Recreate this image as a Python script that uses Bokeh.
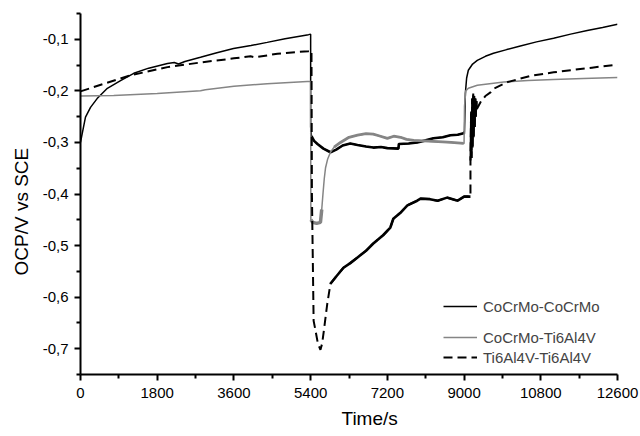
import numpy as np
from bokeh.plotting import figure
from bokeh.models import (Range1d, FixedTicker, CustomJSTickFormatter, Legend,
                          LegendItem, Title)
from bokeh.embed import file_html
from bokeh.resources import INLINE

# ---------------- data ----------------
# CoCrMo-CoCrMo (black solid)
cc_t = [0, 40, 117, 235, 390, 630, 940, 1250, 1600, 2040, 2200, 2300, 2450, 2815, 3200,
        3590, 4000, 4380, 4800, 5350, 5400,
        5400, 5420, 5480, 5560, 5700, 5865, 6000, 6150, 6330, 6500, 6700, 6870, 7050, 7200,
        7460, 7470, 7700, 7900, 8100, 8280, 8500, 8680, 8850, 8990, 9010,
        9030, 9060, 9100, 9200, 9310, 9500, 9690, 10000, 10320, 10700, 11100, 11500, 11890,
        12250, 12600]
cc_v = [-0.300, -0.283, -0.251, -0.232, -0.215, -0.195, -0.180, -0.166, -0.156, -0.147,
        -0.145, -0.148, -0.143, -0.135, -0.126, -0.118, -0.112, -0.106, -0.099, -0.091, -0.090,
        -0.270, -0.288, -0.297, -0.303, -0.312, -0.319, -0.314, -0.306, -0.302, -0.305,
        -0.308, -0.310, -0.309, -0.311, -0.312, -0.303, -0.302, -0.300, -0.296, -0.292,
        -0.290, -0.286, -0.285, -0.282, -0.280,
        -0.205, -0.175, -0.160, -0.148, -0.141, -0.133, -0.127, -0.120, -0.113, -0.105,
        -0.098, -0.090, -0.083, -0.077, -0.071]

# CoCrMo-Ti6Al4V (grey solid)
cg_t = [0, 780, 1800, 2815, 2930, 3600, 4380, 5320, 5400,
        5405, 5450, 5540, 5630, 5660, 5690, 5720, 5750, 5800, 5865, 5950, 6100, 6300, 6500,
        6700, 6870, 7000, 7200, 7350, 7510, 7650, 7820, 8050, 8280, 8500, 8700, 8990,
        9000, 9010, 9040, 9100, 9310, 9600, 9930, 10500, 11100, 11800, 12600]
cg_v = [-0.210, -0.209, -0.205, -0.200, -0.198, -0.191, -0.186, -0.182, -0.182,
        -0.450, -0.455, -0.457, -0.455, -0.430, -0.399, -0.370, -0.349, -0.332, -0.319,
        -0.309, -0.300, -0.290, -0.286, -0.283, -0.284, -0.287, -0.292, -0.288, -0.290,
        -0.294, -0.296, -0.297, -0.298, -0.299, -0.300, -0.302,
        -0.302, -0.230, -0.200, -0.195, -0.189, -0.186, -0.183, -0.180, -0.178, -0.176, -0.174]

# Ti6Al4V-Ti6Al4V (black dashed)
ti_t = [0, 600, 1170, 2040, 2815, 3600, 3990, 4100, 4620, 5350, 5420,
        5430, 5470, 5515, 5570, 5630, 5670, 5710, 5790, 5865,
        6000, 6170, 6330, 6500, 6700, 6870, 7100, 7270, 7340, 7500, 7670, 7900, 7980, 8200,
        8380, 8600, 8850, 9000, 9150,
        9150, 9165, 9175, 9190, 9200, 9215, 9225, 9240, 9250, 9265, 9275, 9290, 9300,
        9385, 9500, 9620, 9690, 10020, 10560, 11100, 11500, 12000, 12600]
ti_v = [-0.201, -0.185, -0.170, -0.154, -0.145, -0.137, -0.133, -0.135, -0.128, -0.123, -0.122,
        -0.400, -0.646, -0.665, -0.690, -0.702, -0.690, -0.665, -0.613, -0.574,
        -0.560, -0.543, -0.534, -0.523, -0.510, -0.496, -0.480, -0.465, -0.448, -0.437,
        -0.422, -0.413, -0.409, -0.410, -0.413, -0.407, -0.413, -0.405, -0.405,
        -0.335, -0.240, -0.330, -0.215, -0.310, -0.205, -0.290, -0.210, -0.270, -0.215,
        -0.250, -0.220, -0.235,
        -0.222, -0.210, -0.203, -0.196, -0.183, -0.171, -0.164, -0.160, -0.155, -0.149]

labels = ["CoCrMo-CoCrMo", "CoCrMo-Ti6Al4V", "Ti6Al4V-Ti6Al4V"]
x_ticks = [0, 1800, 3600, 5400, 7200, 9000, 10800, 12600]
y_ticks = [-0.7, -0.6, -0.5, -0.4, -0.3, -0.2, -0.1]
x_title = "Time/s"
y_title = "OCP/V vs SCE"

FONT = "Liberation Sans"
GREY = "#858585"

p = figure(width=640, height=436, output_backend="svg", toolbar_location=None,
           x_range=Range1d(0, 12600), y_range=Range1d(-0.75, -0.05),
           min_border_left=80, min_border_right=23, min_border_top=13,
           min_border_bottom=62)
p.outline_line_color = None
p.grid.visible = False
p.background_fill_color = "white"

cc_t_a, cc_v_a = np.array(cc_t), np.array(cc_v)
cg_t_a, cg_v_a = np.array(cg_t), np.array(cg_v)
ti_t_a, ti_v_a = np.array(ti_t), np.array(ti_v)

# CoCrMo-CoCrMo
r_cc = p.line(cc_t_a, cc_v_a, line_color="black", line_width=1.5)
i0, i1 = cc_t.index(5420), cc_t.index(9010)
p.line(cc_t_a[i0:i1 + 1], cc_v_a[i0:i1 + 1], line_color="black", line_width=2.6)

# CoCrMo-Ti6Al4V
r_cg = p.line(cg_t_a, cg_v_a, line_color=GREY, line_width=1.5)
j0, j1 = cg_t.index(5405), cg_t.index(5660)
p.line(cg_t_a[j0:j1 + 1], cg_v_a[j0:j1 + 1], line_color=GREY, line_width=3.5)
j2, j3 = cg_t.index(5950), cg_t.index(8990)
p.line(cg_t_a[j2:j3 + 1], cg_v_a[j2:j3 + 1], line_color=GREY, line_width=2.8)

# Ti6Al4V-Ti6Al4V
r_ti = p.line(ti_t_a, ti_v_a, line_color="black", line_width=2, line_dash="9 5")
k0, k1 = ti_t.index(5865), ti_t.index(9150)
p.line(ti_t_a[k0:k1 + 1], ti_v_a[k0:k1 + 1], line_color="black", line_width=2.6)
k2, k3 = k1 + 1, ti_t.index(9300)
p.line(ti_t_a[k2:k3 + 1], ti_v_a[k2:k3 + 1], line_color="black", line_width=2)

# axes
for ax in (p.xaxis[0], p.yaxis[0]):
    ax.axis_line_width = 2
    ax.axis_line_color = "black"
    ax.major_tick_line_width = 2
    ax.minor_tick_line_width = 2
    ax.major_tick_line_color = "black"
    ax.minor_tick_line_color = "black"
    ax.major_tick_in = 0
    ax.major_tick_out = 6
    ax.minor_tick_in = 0
    ax.minor_tick_out = 4
    ax.major_label_text_font = FONT
    ax.major_label_text_font_size = "15px"
    ax.major_label_text_color = "black"

p.xaxis.ticker = FixedTicker(ticks=x_ticks,
                             minor_ticks=[900, 2700, 4500, 6300, 8100, 9900, 11700])
p.xaxis.major_label_standoff = 7
p.yaxis.ticker = FixedTicker(ticks=y_ticks,
                             minor_ticks=[-0.75, -0.65, -0.55, -0.45, -0.35, -0.25, -0.15, -0.05])
p.yaxis.formatter = CustomJSTickFormatter(code="return tick.toFixed(1).replace('.', ',');")
p.yaxis.major_label_standoff = 6

# axis titles
title_style = dict(text_font=FONT, text_font_size="19px", text_font_style="normal",
                   text_color="black")
p.add_layout(Title(text=x_title, align="left", offset=261, standoff=10, **title_style),
             "below")
p.add_layout(Title(text=y_title, align="left", offset=99, standoff=16, **title_style),
             "left")

# legends
common = dict(label_text_font=FONT, label_text_font_size="15px", glyph_width=34,
              glyph_height=20, label_height=20, label_standoff=6, padding=0, margin=0,
              spacing=0, border_line_color=None, background_fill_alpha=0)
leg1 = Legend(items=[LegendItem(label=labels[0], renderers=[r_cc])],
              location=(363, 58), **common)
leg2 = Legend(items=[LegendItem(label=labels[1], renderers=[r_cg]),
                     LegendItem(label=labels[2], renderers=[r_ti])],
              location=(363, 7), **common)
p.add_layout(leg1)
p.add_layout(leg2)

open("out.html", "w").write(file_html(p, INLINE))
